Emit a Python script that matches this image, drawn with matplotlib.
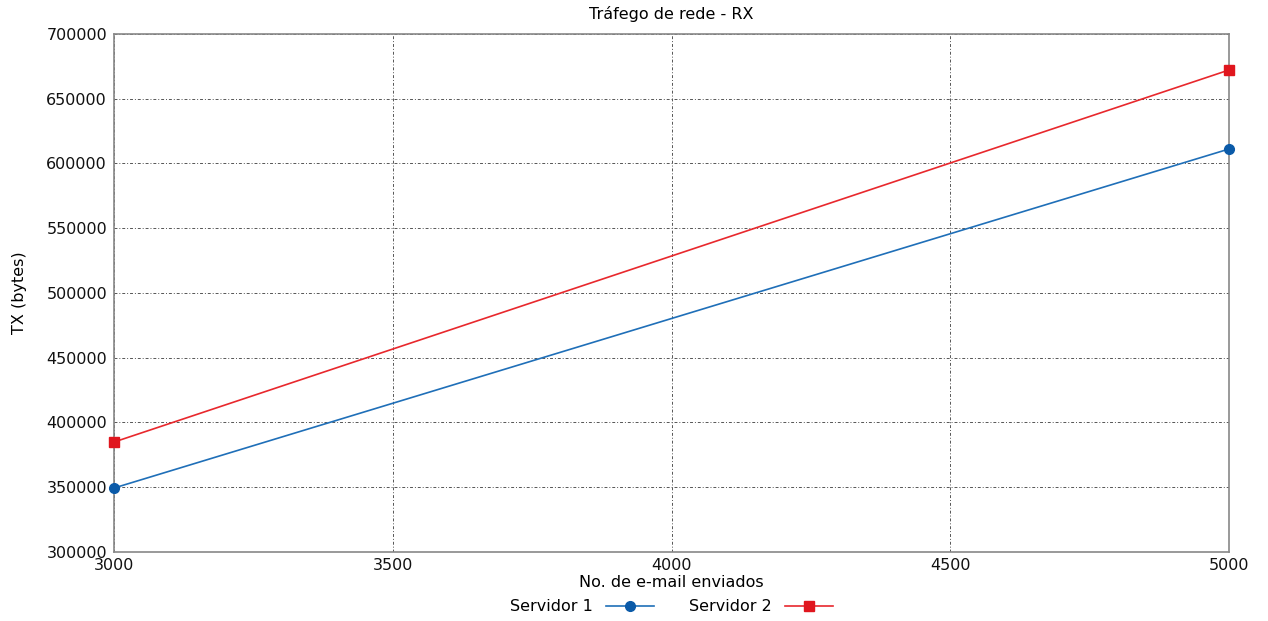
import matplotlib
matplotlib.use("Agg")
import matplotlib.pyplot as plt

plt.rcParams['font.family'] = ['DejaVu Sans']

emails = [3000, 5000]
servidor1 = [349400, 611200]
servidor2 = [384900, 672200]

fig = plt.figure(figsize=(12.68, 6.21), dpi=100)
ax = fig.add_axes([114/1268, 1-552/621, (1229-114)/1268, (552-34)/621])

ax.plot(emails, servidor1, color='#1f6fb8', lw=1.2, marker='o', ms=7,
        markeredgecolor='#0a5aa8', markerfacecolor='#0a5aa8', label='Servidor 1', clip_on=False, zorder=3)
ax.plot(emails, servidor2, color='#e8282d', lw=1.2, marker='s', ms=7,
        markeredgecolor='#e0161e', markerfacecolor='#e0161e', label='Servidor 2', clip_on=False, zorder=3)

ax.set_xlim(3000, 5000)
ax.set_ylim(300000, 700000)
ax.set_xticks([3000, 3500, 4000, 4500, 5000])
ax.set_yticks(range(300000, 700001, 50000))
ax.grid(True, color='#555555', linestyle=(0, (3, 2, 1, 2)), linewidth=0.7)
for s in ax.spines.values():
    s.set_color('#888888')
    s.set_linewidth(1.2)
ax.tick_params(length=0, labelsize=11.5, pad=5, colors='#111111')
ax.tick_params(axis='x', pad=4)

ax.set_title('Tráfego de rede - RX', fontsize=11.5, pad=11)
ax.set_xlabel('No. de e-mail enviados', fontsize=11.5, labelpad=2)
ax.set_ylabel('TX (bytes)', fontsize=11.5, labelpad=14)

ax.legend(loc='upper center', bbox_to_anchor=(0.5, -0.07), ncol=2, frameon=False,
          markerfirst=False, fontsize=11.5, handlelength=3.0, columnspacing=2.2,
          borderpad=0.2)

fig.savefig('out.png', dpi=100)
